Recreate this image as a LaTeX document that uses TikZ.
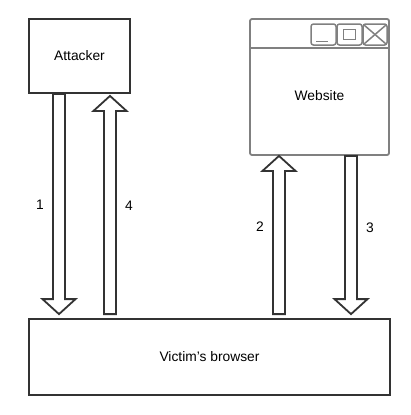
\documentclass[tikz,border=0pt]{standalone}
\usepackage{fontspec}
\setmainfont{Liberation Sans}
\usetikzlibrary{calc,positioning}

\definecolor{strokedark}{HTML}{333333}
\definecolor{strokegray}{HTML}{808080}

% hollow block arrow from #1 to #2
\newcommand{\hollowarrow}[2]{%
  \coordinate (hb) at ($(#2)!15pt!(#1)$);
  \draw[blockarrow] ($(#1)!6pt!90:(#2)$) -- ($(hb)!6pt!-90:(#1)$)
    -- ($(hb)!16.5pt!-90:(#1)$) -- (#2) -- ($(hb)!16.5pt!90:(#1)$)
    -- ($(hb)!6pt!90:(#1)$) -- ($(#1)!6pt!-90:(#2)$) -- cycle;}

\begin{document}
\begin{tikzpicture}[
      x=1pt, y=-1pt,
      font=\fontsize{13.8}{16}\selectfont,
      box/.style={rectangle, draw=strokedark, line width=1.8pt, fill=white,
          inner sep=0pt},
      winbox/.style={rectangle, draw=strokegray, line width=1.8pt, fill=white,
          rounded corners=2pt, inner sep=0pt},
      winbtn/.style={draw=strokegray, line width=1.5pt, rounded corners=2.5pt},
      blockarrow/.style={draw=strokedark, line width=1.8pt, fill=white,
          line join=miter},
      steplbl/.style={inner sep=1pt}
  ]
  \useasboundingbox (0,0) rectangle (410,415);
  % boxes
  \node[box, minimum width=101pt, minimum height=74pt] (attacker) at (79.5,56) {Attacker};
  \node[winbox, minimum width=139pt, minimum height=136pt] (website) at (319.5,87) {};
  \node (webtext) at (319.5,96) {Website};
  \node[box, minimum width=361pt, minimum height=76pt] (victim) at (209.5,357) {Victim's browser};
  % title bar of the window
  \draw[draw=strokegray, line width=1.8pt] (website.west |- 0,48) -- (website.east |- 0,48);
  \draw[winbtn] (311,24) rectangle (336,45);
  \draw[draw=strokegray, line width=1.5pt] (316,41.5) -- (328,41.5);
  \draw[winbtn] (337,24) rectangle (362,45);
  \draw[draw=strokegray, line width=1.5pt] (343.5,29.5) rectangle (355.5,39.5);
  \draw[winbtn] (363,24) rectangle (387,45);
  \draw[draw=strokegray, line width=1.5pt] (364,25) -- (386,44) (386,25) -- (364,44);
  % arrow end points
  \coordinate (s1) at (59,0 |- attacker.south);
  \coordinate[yshift=4pt] (e1) at (59,0 |- victim.north);
  \coordinate[yshift=4pt] (s4) at (110,0 |- victim.north);
  \coordinate[yshift=-2pt] (e4) at (110,0 |- attacker.south);
  \coordinate[yshift=4pt] (s2) at (279,0 |- victim.north);
  \coordinate (e2) at (279,0 |- website.south);
  \coordinate (s3) at (351,0 |- website.south);
  \coordinate[yshift=4pt] (e3) at (351,0 |- victim.north);
  % arrows
  \hollowarrow{s1}{e1}
  \hollowarrow{s4}{e4}
  \hollowarrow{s2}{e2}
  \hollowarrow{s3}{e3}
  % labels
  \node[steplbl] (lbl1) at (40,205) {1};
  \node[steplbl] (lbl4) at (129,206) {4};
  \node[steplbl] (lbl2) at (260,227) {2};
  \node[steplbl] (lbl3) at (370,228) {3};
\end{tikzpicture}
\end{document}
